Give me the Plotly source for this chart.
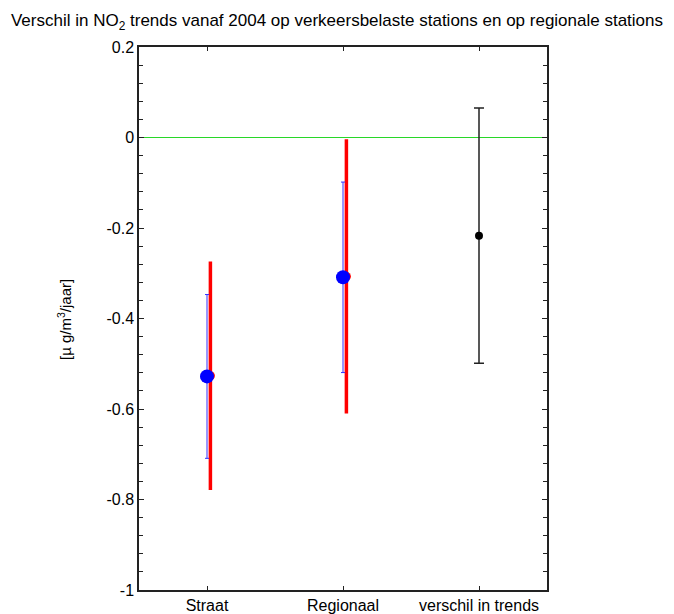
import plotly.graph_objects as go

# Station categories and trend statistics (µg/m3 per year)
categories = ["Straat", "Regionaal", "verschil in trends"]
station_x = [1, 2]
trend_mean = [-0.528, -0.309]
ci_narrow = [0.181, 0.2105]      # blue interval half-widths
ci_wide_mean = [-0.5265, -0.307]
ci_wide = [0.2525, 0.303]        # red interval half-widths
diff_x = [3]
diff_mean = [-0.217]
diff_err = [0.282]

y_tickvals = [-1, -0.8, -0.6, -0.4, -0.2, 0, 0.2]
y_ticktext = ["-1", "-0.8", "-0.6", "-0.4", "-0.2", "0", "0.2"]

RED_SHIFT = 0.025
FONT = "Liberation Sans, Arial, sans-serif"

fig = go.Figure()

# wide interval (red) drawn behind
fig.add_trace(go.Scatter(
    x=[v + RED_SHIFT for v in station_x], y=ci_wide_mean, mode="markers",
    marker=dict(color="red", size=9),
    error_y=dict(type="data", array=ci_wide, color="red", thickness=3.5, width=0),
    showlegend=False, hoverinfo="skip"))

# narrow interval (blue) with mean marker
fig.add_trace(go.Scatter(
    x=station_x, y=trend_mean, mode="markers",
    marker=dict(color="blue", size=14),
    error_y=dict(type="data", array=ci_narrow, color="rgb(50,50,255)", thickness=1, width=2),
    showlegend=False, hoverinfo="skip"))

# difference in trends
fig.add_trace(go.Scatter(
    x=diff_x, y=diff_mean, mode="markers",
    marker=dict(color="black", size=8),
    error_y=dict(type="data", array=diff_err, color="#222", thickness=1.5, width=5),
    showlegend=False, hoverinfo="skip"))

fig.update_layout(
    width=674, height=614,
    margin=dict(l=139, r=127, t=47, b=24),
    paper_bgcolor="white", plot_bgcolor="white",
    font=dict(family=FONT, size=16, color="black"),
    title=dict(
        text="Verschil in NO<sub>2</sub> trends vanaf 2004 op verkeersbelaste stations en op regionale stations",
        x=0.5, xref="container", xanchor="center",
        y=1 - 20 / 614, yref="container", yanchor="middle",
        font=dict(family=FONT, size=17, color="black")),
    xaxis=dict(
        range=[0.5, 3.5], tickvals=[1, 2, 3], ticktext=categories,
        ticks="inside", ticklen=4, tickcolor="#222",
        showline=True, linecolor="#222", linewidth=1.5, mirror="ticks",
        showgrid=False, zeroline=False, automargin=False,
        tickfont=dict(family=FONT, size=16, color="black")),
    yaxis=dict(
        range=[-1, 0.2], tickvals=y_tickvals, ticktext=y_ticktext,
        ticks="inside", ticklen=5, tickcolor="#222",
        minor=dict(dtick=0.04, tick0=0, ticks="inside", ticklen=4, tickcolor="#222"),
        showline=True, linecolor="#222", linewidth=1.5, mirror="ticks",
        showgrid=False, zeroline=True, zerolinecolor="rgb(40,215,40)", zerolinewidth=1,
        automargin=False,
        tickfont=dict(family=FONT, size=16, color="black")),
    annotations=[dict(
        text="[µ g/m<sup>3</sup>/jaar]", textangle=-90,
        xref="paper", yref="paper", x=(65 - 139) / 408, y=(590 - 320) / 543,
        xanchor="center", yanchor="middle", showarrow=False,
        font=dict(family=FONT, size=15, color="black"))],
)

fig.write_html("out.html")
